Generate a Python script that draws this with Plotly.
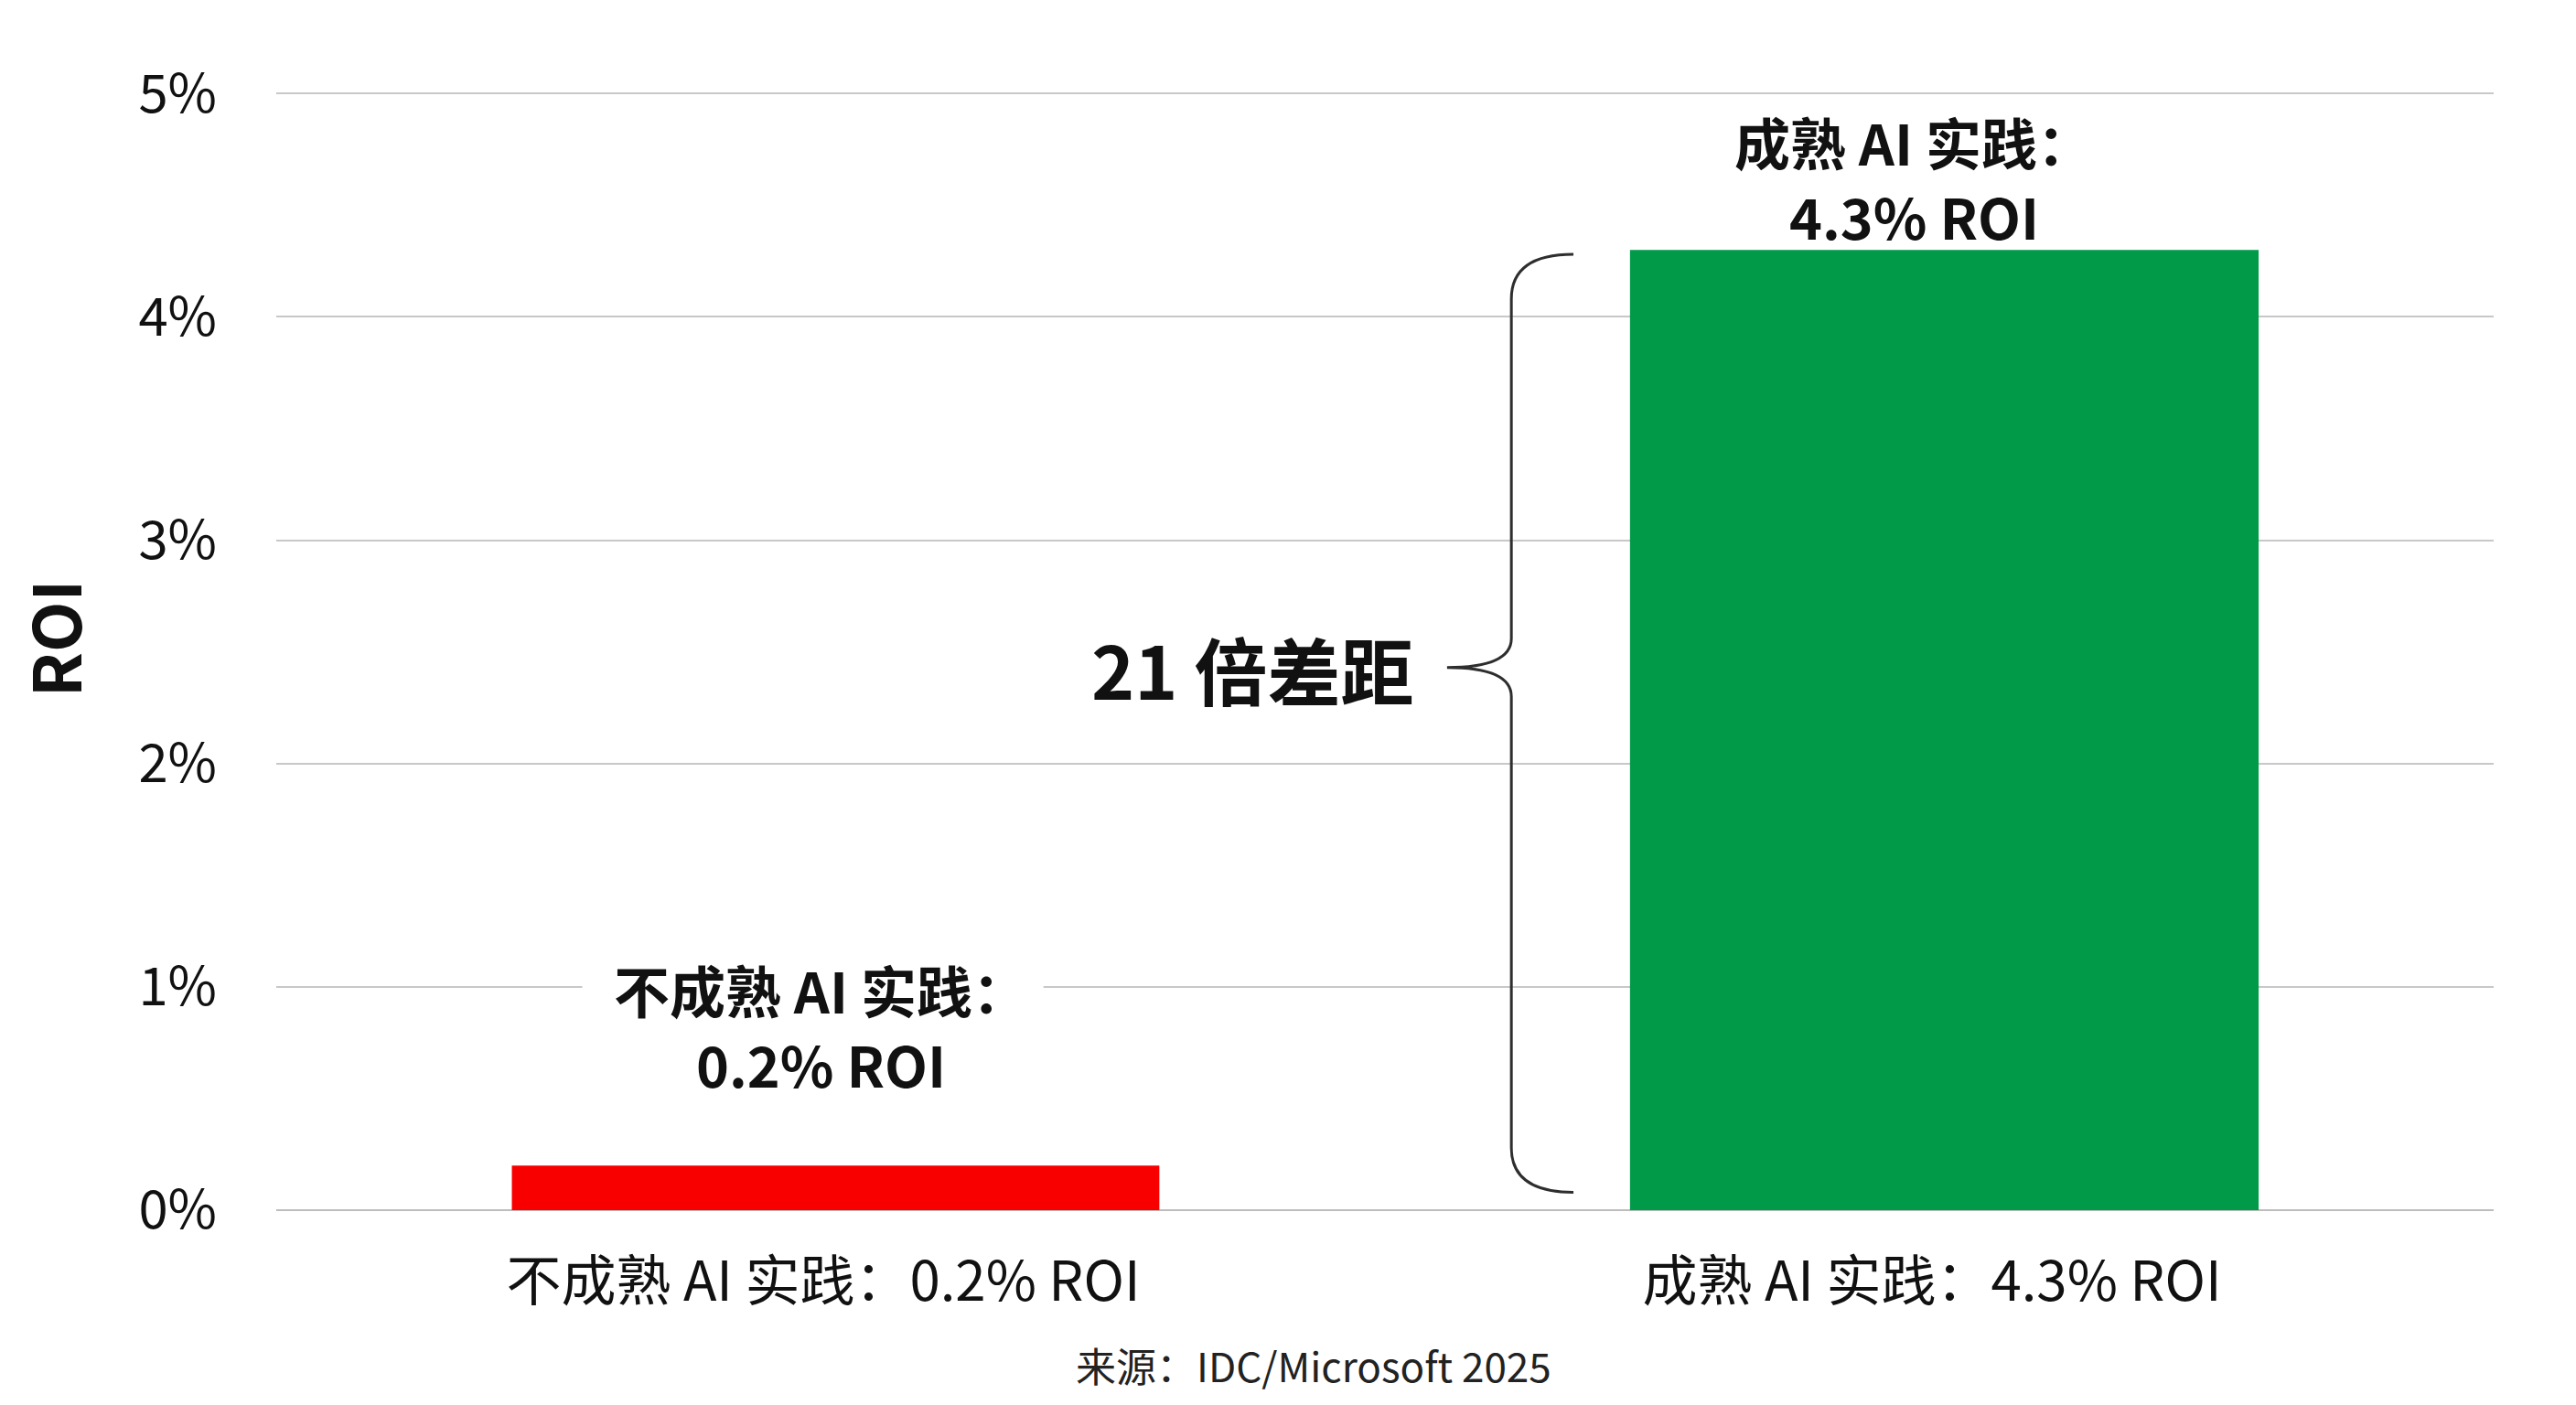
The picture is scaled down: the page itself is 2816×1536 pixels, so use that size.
import plotly.graph_objects as go

categories = ["不成熟 AI 实践：0.2% ROI", "成熟 AI 实践：4.3% ROI"]
short_names = ["不成熟 AI 实践：", "成熟 AI 实践："]
values = [0.2, 4.3]
bar_colors = ["#F80000", "#009A49"]
y_ticks = [0, 1, 2, 3, 4, 5]
y_tick_labels = ["0%", "1%", "2%", "3%", "4%", "5%"]
gap_label = "21 倍差距"
source_text = "来源：IDC/Microsoft 2025"
y_title = "ROI"

FONT = "Noto Sans CJK SC"
INK = "#111111"

fig = go.Figure(
    go.Bar(
        x=categories,
        y=values,
        marker=dict(color=bar_colors, line=dict(width=0)),
        width=[0.584, 0.567],
        hoverinfo="skip",
    )
)

fig.update_layout(
    width=2816,
    height=1536,
    margin=dict(l=302, r=90, t=73, b=213),
    paper_bgcolor="white",
    plot_bgcolor="white",
    showlegend=False,
    font=dict(family=FONT, color=INK),
)

fig.update_yaxes(
    range=[0, 5.12],
    tickvals=y_ticks,
    ticktext=y_tick_labels,
    tickfont=dict(size=58, family=FONT, color=INK),
    ticklabelstandoff=64,
    showgrid=True,
    gridcolor="#C8C8C8",
    gridwidth=2,
    zeroline=True,
    zerolinecolor="#BDBDBD",
    zerolinewidth=2,
    showline=False,
    title=dict(text="<b>" + y_title + "</b>", font=dict(size=72, family=FONT, color=INK), standoff=38),
)
fig.update_xaxes(
    range=[-0.5045, 1.4955],
    tickvals=categories,
    ticktext=[c + "\u00a0\u00a0" for c in categories],
    tickfont=dict(size=60, family=FONT, color=INK),
    ticklabelstandoff=38,
    showgrid=False,
    showline=False,
)

# white gap in the 1% gridline behind the left label
fig.add_shape(type="rect", xref="paper", yref="y",
              x0=0.138, x1=0.346, y0=0.96, y1=1.04,
              fillcolor="white", line=dict(width=0), layer="above")

# labels above bars (two lines each)
line_shifts = [((-16, 193), (-16, 112)), ((-33, 119), (-33, 38))]
for i, (cat, name, v) in enumerate(zip(categories, short_names, values)):
    (dx1, dy1), (dx2, dy2) = line_shifts[i]
    fig.add_annotation(
        x=cat, y=v, xref="x", yref="y",
        text=f"<b>{name}</b>",
        showarrow=False, xanchor="center", yanchor="middle",
        xshift=dx1, yshift=dy1,
        font=dict(size=61, family=FONT, color=INK),
    )
    fig.add_annotation(
        x=cat, y=v, xref="x", yref="y",
        text=f"<b>{v}% ROI</b>",
        showarrow=False, xanchor="center", yanchor="middle",
        xshift=dx2, yshift=dy2,
        font=dict(size=61, family=FONT, color=INK),
    )

# brace
x_e, x_v, x_t = 0.585, 0.557, 0.528
yT = values[1] - 0.02
yB = 0.08
yTip = 2.43
r = 0.2
r2 = 0.13
path = (
    f"M {x_e},{yT} Q {x_v},{yT} {x_v},{yT - r} "
    f"L {x_v},{yTip + r2} Q {x_v},{yTip} {x_t},{yTip} "
    f"Q {x_v},{yTip} {x_v},{yTip - r2} "
    f"L {x_v},{yB + r} Q {x_v},{yB} {x_e},{yB}"
)
fig.add_shape(type="path", path=path, xref="paper", yref="y",
              line=dict(color="#2E2E2E", width=3))

fig.add_annotation(
    x=0.514, y=yTip, xref="paper", yref="y",
    text=f"<b>{gap_label}</b>", showarrow=False,
    xanchor="right", yanchor="middle",
    font=dict(size=80, family=FONT, color=INK),
)

fig.add_annotation(
    x=0.468, y=-0.135, xref="paper", yref="paper",
    text=source_text, showarrow=False,
    xanchor="center", yanchor="middle",
    font=dict(size=44, family=FONT, color="#222222"),
)

fig.write_html("out.html")
